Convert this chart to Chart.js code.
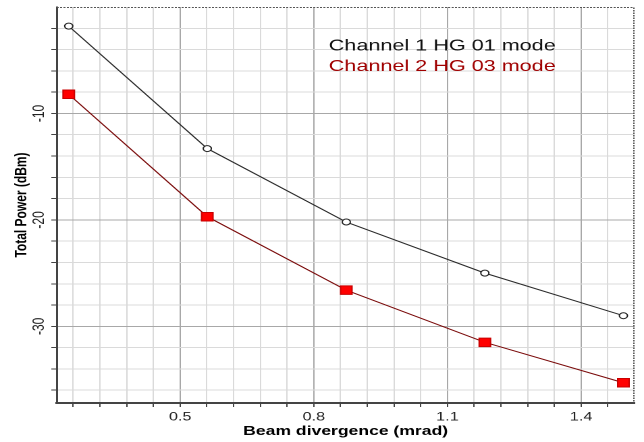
<!DOCTYPE html>
<html>
<head>
<meta charset="utf-8">
<title>Total power vs beam divergence</title>
<script src="https://cdn.jsdelivr.net/npm/chart.js@4/dist/chart.umd.min.js"></script>
<style>
  html, body { margin: 0; padding: 0; background: #ffffff; overflow: hidden; }
  /* the plot is laid out narrow and widened horizontally */
  #wrap { position: absolute; left: 0; top: 0; width: 477px; height: 442px;
          transform: scaleX(1.3501); transform-origin: 0 0; }
</style>
</head>
<body>
<div id="wrap"><canvas id="chart"></canvas></div>
<script>
// Beam divergence (mrad) of each measurement
const divergence = [0.25, 0.561, 0.873, 1.184, 1.495];
// Total power (dBm) per channel
const channel1 = [-1.8, -13.3, -20.2, -25.0, -29.0];
const channel2 = [-8.2, -19.7, -26.6, -31.5, -35.3];
const seriesNames = ['Channel 1 HG 01 mode', 'Channel 2 HG 03 mode'];

// Grid / tick positions and which of them carry a label
const xTickValues = [0.26, 0.32, 0.38, 0.44, 0.5, 0.56, 0.62, 0.68, 0.74, 0.8,
                     0.86, 0.92, 0.98, 1.04, 1.1, 1.16, 1.22, 1.28, 1.34, 1.4, 1.46];
const xTickLabels = [0.5, 0.8, 1.1, 1.4];
const yTickValues = [-36, -34, -32, -30, -28, -26, -24, -22, -20, -18,
                     -16, -14, -12, -10, -8, -6, -4, -2];
const yTickLabels = [-30, -20, -10];

const FAMILY = '"Liberation Sans", Arial, Helvetica, sans-serif';
const isIn = (list, v) => list.some(l => Math.abs(l - v) < 1e-6);

// dotted frame on the top and right of the plot area
const framePlugin = {
  id: 'dottedFrame',
  afterDraw(chart) {
    const { ctx, chartArea: a } = chart;
    ctx.save();
    ctx.strokeStyle = '#555555';
    ctx.lineWidth = 1;
    ctx.setLineDash([1.5, 1]);
    ctx.beginPath();
    ctx.moveTo(a.left, a.top + 0.5);
    ctx.lineTo(a.right - 0.5, a.top + 0.5);
    ctx.lineTo(a.right - 0.5, a.bottom);
    ctx.stroke();
    ctx.restore();
  }
};

// text-only legend placed inside the plot area
const inlineLegend = {
  id: 'inlineLegend',
  afterDraw(chart) {
    const { ctx, chartArea: a } = chart;
    ctx.save();
    ctx.font = '16px ' + FAMILY;
    ctx.textAlign = 'left';
    ctx.textBaseline = 'alphabetic';
    chart.data.datasets.forEach((ds, i) => {
      ctx.fillStyle = ds.legendColor;
      ctx.fillText(ds.label, a.left + 201.5, a.top + 43.3 + i * 20.7);
    });
    ctx.restore();
  }
};

new Chart(document.getElementById('chart'), {
  type: 'line',
  data: {
    datasets: [
      {
        label: seriesNames[0],
        data: divergence.map((x, i) => ({ x: x, y: channel1[i] })),
        borderColor: '#2a2a2a',
        borderWidth: 1,
        pointStyle: 'circle',
        pointRadius: 3,
        pointBorderWidth: 1,
        pointBackgroundColor: '#ffffff',
        pointBorderColor: '#222222',
        legendColor: '#111111',
        tension: 0
      },
      {
        label: seriesNames[1],
        data: divergence.map((x, i) => ({ x: x, y: channel2[i] })),
        borderColor: '#7a0a0a',
        borderWidth: 1,
        pointStyle: 'rect',
        pointRadius: 6,
        pointBorderWidth: 1,
        pointBackgroundColor: '#ff0000',
        pointBorderColor: '#c80000',
        legendColor: '#a00000',
        tension: 0
      }
    ]
  },
  options: {
    responsive: true,
    maintainAspectRatio: false,
    animation: false,
    devicePixelRatio: 2,
    layout: { padding: { top: 6, right: 5, left: 0, bottom: 0 } },
    plugins: {
      legend: { display: false },
      tooltip: { enabled: false }
    },
    scales: {
      x: {
        type: 'linear',
        min: 0.223,
        max: 1.52,
        afterBuildTicks: s => { s.ticks = xTickValues.map(v => ({ value: v })); },
        afterFit: s => { s.height = 39; s.paddingLeft = 0; s.paddingRight = 0; },
        ticks: {
          autoSkip: false,
          maxRotation: 0,
          padding: 3,
          color: '#222222',
          font: { size: 12, family: FAMILY },
          callback: v => isIn(xTickLabels, v) ? Number(v).toFixed(1) : ''
        },
        grid: {
          color: c => (c.tick && isIn(xTickLabels, c.tick.value)) ? '#a8a8a8' : '#dadada',
          tickColor: '#444444',
          tickLength: 4,
          lineWidth: 1
        },
        border: { color: '#444444', width: 2 },
        title: {
          display: true,
          text: 'Beam divergence (mrad)',
          color: '#000000',
          font: { size: 13, weight: 'bold', family: FAMILY },
          padding: { top: 0, bottom: 3 }
        }
      },
      y: {
        type: 'linear',
        min: -37.2,
        max: 0,
        afterBuildTicks: s => { s.ticks = yTickValues.map(v => ({ value: v })); },
        afterFit: s => { s.width = 42; s.paddingTop = 0; s.paddingBottom = 0; },
        ticks: {
          autoSkip: false,
          minRotation: 90,
          maxRotation: 90,
          crossAlign: 'center',
          padding: 0,
          color: '#222222',
          font: { size: 12, family: FAMILY },
          callback: v => isIn(yTickLabels, v) ? String(v) : ''
        },
        grid: {
          color: c => (c.tick && isIn(yTickLabels, c.tick.value)) ? '#a8a8a8' : '#dadada',
          tickColor: '#444444',
          tickLength: 4,
          lineWidth: 1
        },
        border: { color: '#444444', width: 1.5 },
        title: {
          display: true,
          text: 'Total Power (dBm)',
          color: '#000000',
          font: { size: 12, weight: 'bold', family: FAMILY },
          padding: { top: 9, bottom: 0 }
        }
      }
    }
  },
  plugins: [framePlugin, inlineLegend]
});
</script>
</body>
</html>
